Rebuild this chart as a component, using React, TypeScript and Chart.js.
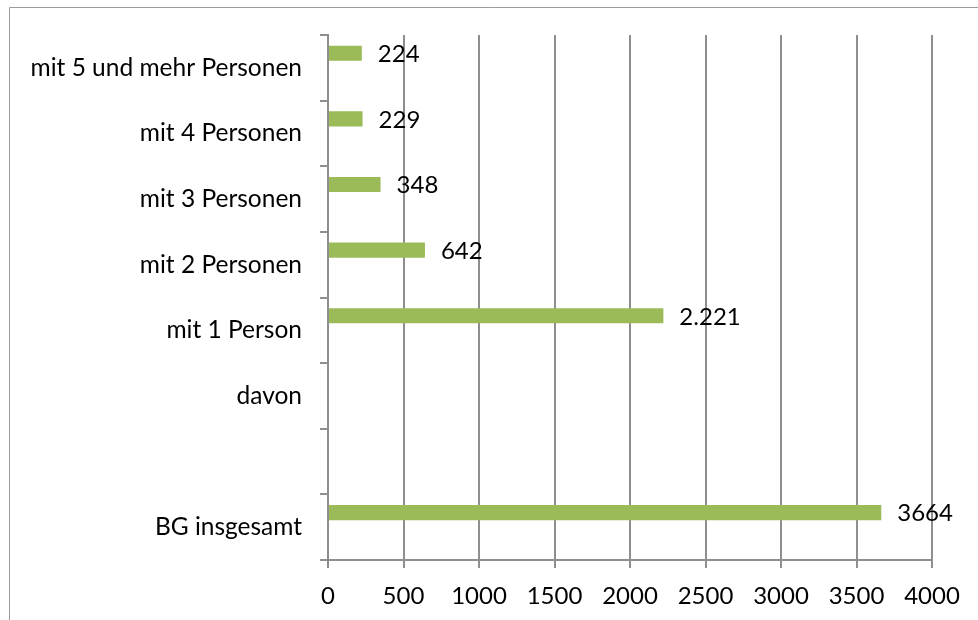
import React, { useEffect, useRef } from "react";
import { Chart, registerables } from "chart.js";

Chart.register(...registerables);

const categories = [
  "mit 5 und mehr Personen",
  "mit 4 Personen",
  "mit 3 Personen",
  "mit 2 Personen",
  "mit 1 Person",
  "davon",
  "",
  "BG insgesamt",
];
const values: (number | null)[] = [224, 229, 348, 642, 2221, null, null, 3664];
const valueLabels = ["224", "229", "348", "642", "2.221", "", "", "3664"];
const emptySeries: (number | null)[] = [null, null, null, null, null, null, null, null];

const FONT_FAMILY = "Lato, 'Open Sans', sans-serif";
const GRID = "#8e8e8e";

export default function App() {
  const ref = useRef<HTMLCanvasElement | null>(null);
  useEffect(() => {
    if (!ref.current) return;
    const labelPlugin = {
      id: "valueLabels",
      afterDatasetsDraw(chart: any) {
        const ctx = chart.ctx;
        const meta = chart.getDatasetMeta(0);
        ctx.save();
        ctx.font = `24px ${FONT_FAMILY}`;
        ctx.fillStyle = "#000";
        ctx.textAlign = "left";
        ctx.textBaseline = "middle";
        meta.data.forEach((el: any, i: number) => {
          if (values[i] == null) return;
          ctx.fillText(valueLabels[i], el.x + 16, el.y + 1);
        });
        ctx.restore();
      },
    };
    const borderPlugin = {
      id: "outerBorder",
      beforeDraw(chart: any) {
        const ctx = chart.ctx;
        ctx.save();
        ctx.strokeStyle = "#9a9a9a";
        ctx.lineWidth = 1;
        ctx.beginPath();
        ctx.moveTo(9.5, 620);
        ctx.lineTo(9.5, 7.5);
        ctx.lineTo(978, 7.5);
        ctx.stroke();
        ctx.restore();
      },
    };
    const chart = new Chart(ref.current, {
      type: "bar",
      data: {
        labels: categories,
        datasets: [
          {
            data: values,
            backgroundColor: "#9BBB59",
            borderWidth: 0,
            categoryPercentage: 0.885,
            barPercentage: 0.52,
          },
          {
            data: emptySeries,
            backgroundColor: "#C0504D",
            borderWidth: 0,
            categoryPercentage: 0.885,
            barPercentage: 0.52,
          },
        ],
      },
      options: {
        indexAxis: "y",
        responsive: false,
        animation: false,
        layout: { padding: { left: 0, right: 46, top: 35, bottom: 0 } },
        plugins: {
          legend: { display: false },
          tooltip: { enabled: false },
        },
        scales: {
          x: {
            min: 0,
            max: 4000,
            ticks: {
              stepSize: 500,
              color: "#000",
              font: { family: FONT_FAMILY, size: 24 },
              padding: 14,
              callback: (v: any) => String(v),
            },
            grid: { color: GRID, lineWidth: 2, tickLength: 8 },
            border: { color: GRID, width: 2 },
            afterFit: (s: any) => {
              s.height = 60;
            },
          },
          y: {
            ticks: {
              color: "#000",
              font: { family: FONT_FAMILY, size: 24.5 },
              padding: 18,
            },
            grid: { drawOnChartArea: false, color: GRID, lineWidth: 2, tickLength: 8 },
            border: { color: GRID, width: 2 },
            afterFit: (s: any) => {
              s.width = 328;
            },
          },
        },
      } as any,
      plugins: [labelPlugin, borderPlugin],
    });
    return () => chart.destroy();
  }, []);
  return (
    <div style={{ position: "absolute", left: 0, top: 0, width: 978, height: 620, background: "#fff" }}>
      <canvas ref={ref} width={978} height={620} style={{ display: "block" }} />
    </div>
  );
}
